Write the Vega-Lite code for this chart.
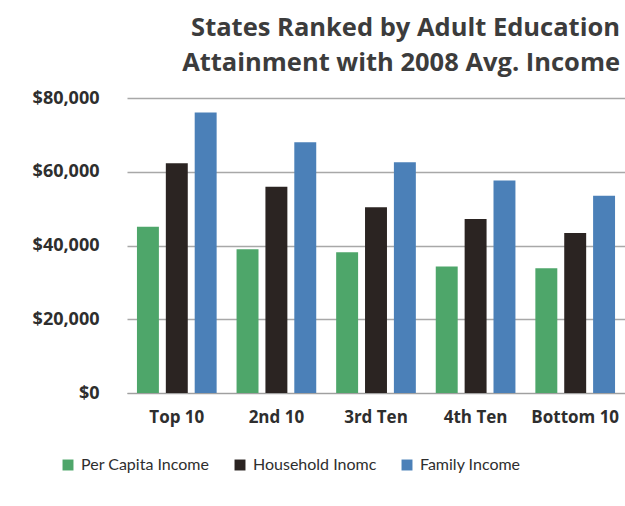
{
  "$schema": "https://vega.github.io/schema/vega-lite/v6.json",
  "width": 498,
  "height": 295,
  "autosize": {"type": "none"},
  "padding": {"left": 127, "top": 98, "right": 0, "bottom": 113},
  "background": "white",
  "title": {
    "text": ["States Ranked by Adult Education", "Attainment with 2008 Avg. Income"],
    "anchor": "end",
    "font": "Open Sans",
    "fontSize": 25.5,
    "fontWeight": "bold",
    "color": "#3c3c3c",
    "lineHeight": 35,
    "offset": 13,
    "dx": -5
  },
  "data": {
    "values": [
      {"group": "Top 10", "series": "Per Capita Income", "value": 45100},
      {"group": "Top 10", "series": "Household Inomc", "value": 62300},
      {"group": "Top 10", "series": "Family Income", "value": 76100},
      {"group": "2nd 10", "series": "Per Capita Income", "value": 39000},
      {"group": "2nd 10", "series": "Household Inomc", "value": 55900},
      {"group": "2nd 10", "series": "Family Income", "value": 68000},
      {"group": "3rd Ten", "series": "Per Capita Income", "value": 38200},
      {"group": "3rd Ten", "series": "Household Inomc", "value": 50400},
      {"group": "3rd Ten", "series": "Family Income", "value": 62600},
      {"group": "4th Ten", "series": "Per Capita Income", "value": 34300},
      {"group": "4th Ten", "series": "Household Inomc", "value": 47200},
      {"group": "4th Ten", "series": "Family Income", "value": 57600},
      {"group": "Bottom 10", "series": "Per Capita Income", "value": 33800},
      {"group": "Bottom 10", "series": "Household Inomc", "value": 43400},
      {"group": "Bottom 10", "series": "Family Income", "value": 53500}
    ]
  },
  "mark": {"type": "bar"},
  "encoding": {
    "x": {
      "field": "group",
      "type": "nominal",
      "sort": ["Top 10", "2nd 10", "3rd Ten", "4th Ten", "Bottom 10"],
      "scale": {"paddingInner": 0.2, "paddingOuter": 0.1},
      "axis": {
        "title": null,
        "labelAngle": 0,
        "labelFont": "Open Sans",
        "labelFontSize": 17,
        "labelFontWeight": "bold",
        "labelColor": "#2e2e2e",
        "labelPadding": 16,
        "ticks": false,
        "domain": true,
        "domainColor": "#a0a0a0",
        "grid": false
      }
    },
    "xOffset": {
      "field": "series",
      "type": "nominal",
      "sort": ["Per Capita Income", "Household Inomc", "Family Income"],
      "scale": {"paddingInner": 0.24, "paddingOuter": 0}
    },
    "y": {
      "field": "value",
      "type": "quantitative",
      "scale": {"domain": [0, 80000]},
      "axis": {
        "title": null,
        "values": [0, 20000, 40000, 60000, 80000],
        "format": "$,.0f",
        "labelFont": "Open Sans",
        "labelFontSize": 18,
        "labelFontWeight": "bold",
        "labelColor": "#2e2e2e",
        "labelPadding": 28,
        "ticks": false,
        "domain": false,
        "grid": true,
        "gridColor": "#a8a8a8",
        "gridWidth": 1.5
      }
    },
    "color": {
      "field": "series",
      "type": "nominal",
      "sort": ["Per Capita Income", "Household Inomc", "Family Income"],
      "scale": {
        "domain": ["Per Capita Income", "Household Inomc", "Family Income"],
        "range": ["#4ea66a", "#2b2422", "#4b80b8"]
      },
      "legend": {
        "title": null,
        "orient": "none",
        "direction": "horizontal",
        "legendX": -67,
        "legendY": 359,
        "symbolType": "square",
        "symbolSize": 120,
        "symbolStrokeWidth": 0,
        "labelFont": "Lato",
        "labelFontSize": 16,
        "labelColor": "#2e2e2e",
        "columnPadding": 22,
        "labelOffset": 5
      }
    }
  },
  "config": {"view": {"stroke": null}}
}
